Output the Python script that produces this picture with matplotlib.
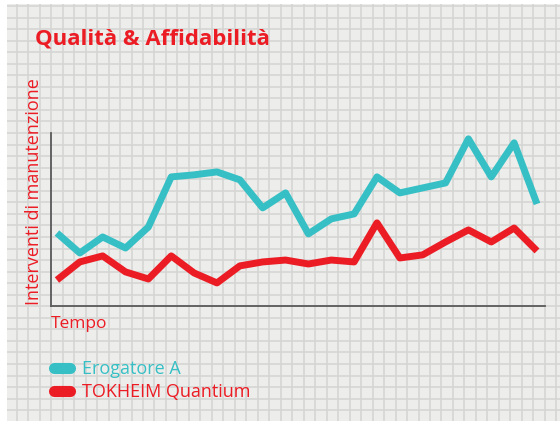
import numpy as np
import matplotlib
matplotlib.use("Agg")
import matplotlib.pyplot as plt

# data (arbitrary units, axis has no ticks)
tempo = list(range(22))
erogatore_a = [42.4, 30.8, 40.1, 33.7, 45.9, 75.0, 76.2, 77.9, 73.3, 57.0, 65.7,
               41.9, 50.6, 53.5, 75.0, 65.7, 68.6, 71.5, 97.1, 75.0, 94.8, 59.3]
tokheim = [15.1, 25.6, 29.1, 19.8, 15.7, 29.1, 19.2, 13.4, 23.3, 25.6, 26.7,
           24.4, 26.7, 25.6, 48.3, 27.9, 29.7, 37.2, 44.2, 37.2, 45.3, 32.0]
labels = ["Erogatore A", "TOKHEIM Quantium"]

RED = "#ec1c24"
CYAN = "#36c0c5"
W, H = 560, 421

plt.rcParams['font.family'] = ['Open Sans', 'DejaVu Sans']
fig = plt.figure(figsize=(W / 100, H / 100), dpi=100, facecolor="white")

# squared-paper background
bg = fig.add_axes([7 / W, 0, 1 - 7 / W, 1 - 4 / H])
bg.set_facecolor("#ededeb")
bg.set_xlim(7, W)
bg.set_ylim(H, 4)
bg.set_xticks(np.arange(16.7, W, 11.48))
bg.set_yticks(np.arange(6.0, H, 11.55))
bg.grid(True, color="#d5d5d3", linewidth=1.2)
bg.tick_params(length=0, labelbottom=False, labelleft=False)
for s in bg.spines.values():
    s.set_visible(False)

# main chart
ax = fig.add_axes([51 / W, 1 - 306 / H, 494 / W, 173 / H])
ax.patch.set_alpha(0)
ax.plot(tempo, erogatore_a, color=CYAN, lw=5, solid_joinstyle="round",
        solid_capstyle="butt", label=labels[0])
ax.plot(tempo, tokheim, color=RED, lw=5, solid_joinstyle="round",
        solid_capstyle="butt", label=labels[1])
ax.set_xlim(-0.26, 21.35)
ax.set_ylim(0, 100.5)
ax.set_xticks([])
ax.set_yticks([])
for side in ["top", "right"]:
    ax.spines[side].set_visible(False)
for side in ["left", "bottom"]:
    ax.spines[side].set_color("#5a5a5a")
    ax.spines[side].set_linewidth(1.3)

fig.text(35 / W, 1 - 44 / H, "Qualità & Affidabilità", color=RED,
         fontsize=16, fontweight="bold")
fig.text(34 / W, 1 - 305 / H, "Interventi di manutenzione", color=RED,
         fontsize=13, rotation=90, ha="center", va="bottom")
fig.text(51 / W, 1 - 324 / H, "Tempo", color=RED, fontsize=12.5,
         ha="left", va="center")

leg = ax.legend(loc="upper left", bbox_to_anchor=(45 / W, 1 - 351 / H),
                bbox_transform=fig.transFigure, frameon=False, fontsize=13,
                handlelength=0.9, handletextpad=0.65, labelspacing=0.3,
                borderpad=0, labelcolor="linecolor")
for h in leg.get_lines():
    h.set_linewidth(8)
    h.set_solid_capstyle("round")

fig.savefig("out.png", dpi=100, facecolor="white")
